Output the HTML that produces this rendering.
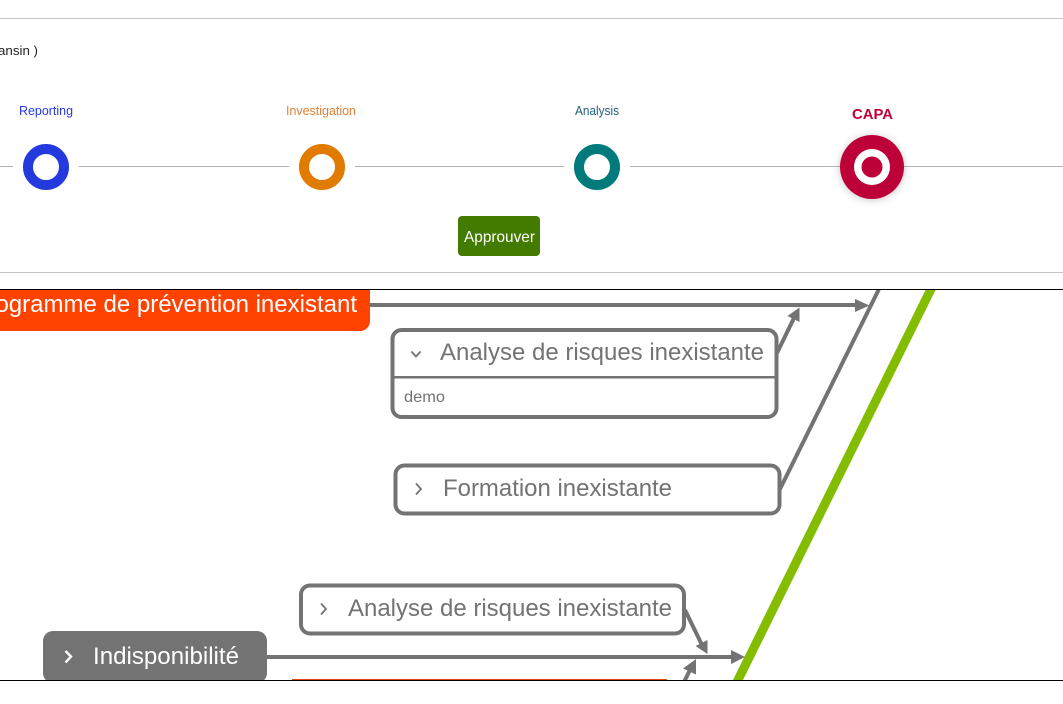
<!DOCTYPE html>
<html>
<head>
<meta charset="utf-8">
<style>
html,body{margin:0;padding:0;background:#fff;width:1063px;height:704px;overflow:hidden}
svg{display:block;position:absolute;left:0;top:0}
text{font-family:"Liberation Sans",Arial,sans-serif}
</style>
</head>
<body>
<svg width="1063" height="704" viewBox="0 0 1063 704" xmlns="http://www.w3.org/2000/svg">
<defs>
<clipPath id="c"><rect x="0" y="290" width="1063" height="390"/></clipPath>
<filter id="s" x="-30%" y="-30%" width="160%" height="160%"><feDropShadow dx="0" dy="1" stdDeviation="4" flood-color="#000" flood-opacity=".22"/></filter>
</defs>

<!-- header -->
<rect x="0" y="18" width="1063" height="1" fill="#c4c4c4"/>
<rect x="0" y="272" width="1063" height="1" fill="#c4c4c4"/>
<text x="-2" y="55" font-size="13" fill="#222" textLength="40" lengthAdjust="spacingAndGlyphs">ansin )</text>

<!-- stepper lines -->
<g fill="#b4b4b4">
<rect x="0" y="166" width="13" height="1"/>
<rect x="79" y="166" width="210" height="1"/>
<rect x="355" y="166" width="209" height="1"/>
<rect x="630" y="166" width="433" height="1"/>
</g>

<text x="19" y="115" font-size="13" fill="#2439de" textLength="54" lengthAdjust="spacingAndGlyphs">Reporting</text>
<text x="286" y="115" font-size="13" fill="#e0803a" textLength="70" lengthAdjust="spacingAndGlyphs">Investigation</text>
<text x="575" y="115" font-size="13" fill="#20607a" textLength="44" lengthAdjust="spacingAndGlyphs">Analysis</text>
<text x="852" y="119" font-size="15" font-weight="bold" fill="#bd0038" textLength="41" lengthAdjust="spacingAndGlyphs">CAPA</text>

<circle cx="46" cy="167" r="18" fill="#fff" stroke="#2439de" stroke-width="10"/>
<circle cx="322" cy="167" r="18" fill="#fff" stroke="#e07b00" stroke-width="10"/>
<circle cx="597" cy="167" r="18" fill="#fff" stroke="#007a7a" stroke-width="10"/>
<circle cx="872" cy="167" r="32" fill="#bd0038" filter="url(#s)"/>
<circle cx="872" cy="167" r="18" fill="#fff"/>
<circle cx="872" cy="167" r="10.500" fill="#bd0038"/>

<rect x="458" y="216" width="82" height="40" rx="4" fill="#437a00"/>
<text x="464" y="242" font-size="16" fill="#fff" textLength="71" lengthAdjust="spacingAndGlyphs">Approuver</text>

<!-- diagram -->
<g clip-path="url(#c)">
  <!-- spine -->
  <line x1="933" y1="285" x2="735.500" y2="685" stroke="#84bd00" stroke-width="9"/>
  <line x1="881" y1="285" x2="779" y2="491" stroke="#737373" stroke-width="4"/>

  <!-- top arrow -->
  <line x1="368" y1="305" x2="858" y2="305" stroke="#737373" stroke-width="4"/>
  <polygon points="869.500,305.500 855,299 855,312" fill="#737373"/>
  <line x1="777" y1="353" x2="794" y2="318" stroke="#737373" stroke-width="4"/>
  <polygon points="799.500,307.500 787.500,316 799.500,322" fill="#737373"/>

  <!-- red node -->
  <rect x="-60" y="270" width="430" height="61" rx="10" fill="#ff4200"/>
  <text x="357" y="312" font-size="24" fill="#fff" text-anchor="end">ogramme de prévention inexistant</text>

  <!-- expanded node -->
  <rect x="392.500" y="330" width="384" height="87" rx="9" fill="#fff" stroke="#737373" stroke-width="4"/>
  <rect x="392" y="376" width="384" height="2.500" fill="#737373"/>
  <path d="M411.500 351.500 L416 356.500 L420.500 351.500" fill="none" stroke="#737373" stroke-width="1.800"/>
  <text x="440" y="360" font-size="24" fill="#737373" textLength="324" lengthAdjust="spacingAndGlyphs">Analyse de risques inexistante</text>
  <text x="404" y="402" font-size="16" fill="#737373" textLength="41" lengthAdjust="spacingAndGlyphs">demo</text>

  <!-- formation node -->
  <rect x="395.500" y="465.500" width="384" height="48" rx="9" fill="#fff" stroke="#737373" stroke-width="4"/>
  <path d="M416 483.500 L421 489 L416 494.500" fill="none" stroke="#737373" stroke-width="1.800"/>
  <text x="443" y="496" font-size="24" fill="#737373" textLength="229" lengthAdjust="spacingAndGlyphs">Formation inexistante</text>

  <!-- lower node -->
  <rect x="301" y="585.500" width="383" height="48" rx="9" fill="#fff" stroke="#737373" stroke-width="4"/>
  <path d="M321 603.500 L326 609 L321 614.500" fill="none" stroke="#737373" stroke-width="1.800"/>
  <text x="348" y="616" font-size="24" fill="#737373" textLength="324" lengthAdjust="spacingAndGlyphs">Analyse de risques inexistante</text>

  <!-- lower arrows -->
  <line x1="264" y1="657" x2="733" y2="657" stroke="#737373" stroke-width="4"/>
  <polygon points="745,657 731,650 731,664" fill="#737373"/>
  <line x1="685" y1="610" x2="702" y2="645" stroke="#737373" stroke-width="4"/>
  <polygon points="707.500,654 707.500,640 695.500,646" fill="#737373"/>
  <line x1="684" y1="682" x2="691" y2="668" stroke="#737373" stroke-width="4"/>
  <polygon points="696,659 683,668.500 696,674.500" fill="#737373"/>

  <!-- indisponibilité node -->
  <rect x="43" y="631" width="224" height="52" rx="10" fill="#737373"/>
  <path d="M65.500 651 L71 656.500 L65.500 662.500" fill="none" stroke="#fff" stroke-width="2.400"/>
  <text x="93" y="664" font-size="24" fill="#fff" textLength="146" lengthAdjust="spacingAndGlyphs">Indisponibilité</text>
</g>

<!-- frame lines -->
<rect x="0" y="289" width="1063" height="1" fill="#000"/>
<rect x="0" y="680" width="1063" height="1" fill="#000"/>
<rect x="292" y="679" width="375" height="1" fill="#e2461a"/>
</svg>
</body>
</html>
